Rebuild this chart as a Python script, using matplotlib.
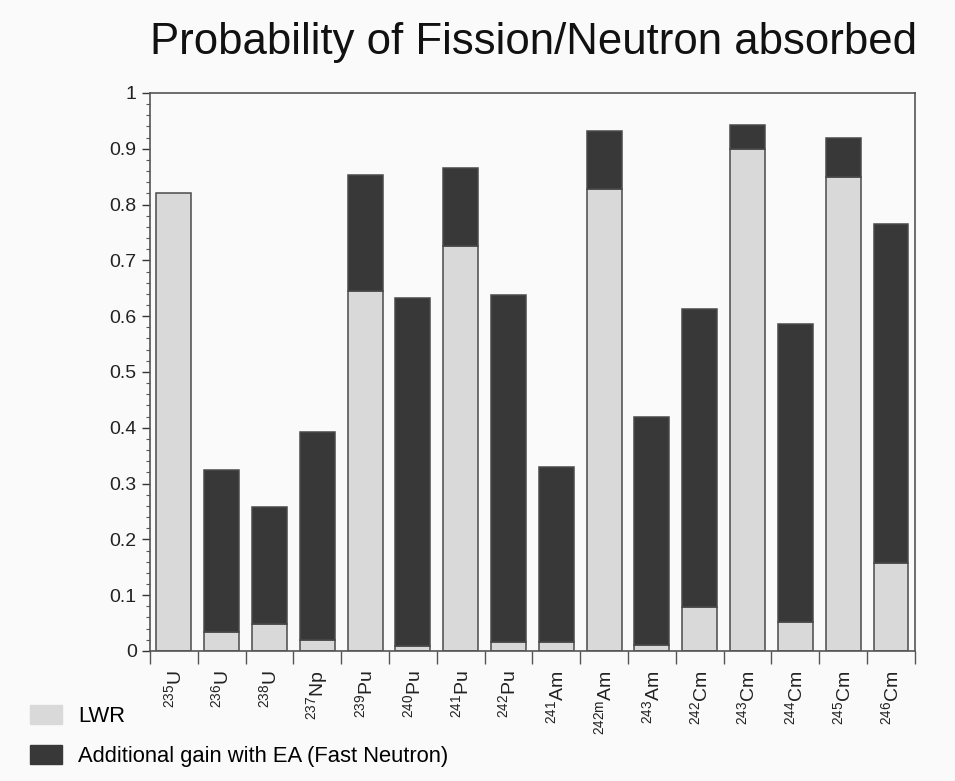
"""Probability of fission per neutron absorbed, LWR vs fast-neutron EA."""

import matplotlib

matplotlib.use("Agg")
import matplotlib.pyplot as plt
import numpy as np
from matplotlib.patches import Patch
from matplotlib.ticker import MultipleLocator

isotopes = [
    "$^{235}$U", "$^{236}$U", "$^{238}$U", "$^{237}$Np",
    "$^{239}$Pu", "$^{240}$Pu", "$^{241}$Pu", "$^{242}$Pu",
    "$^{241}$Am", "$^{242m}$Am", "$^{243}$Am", "$^{242}$Cm",
    "$^{243}$Cm", "$^{244}$Cm", "$^{245}$Cm", "$^{246}$Cm",
]
lwr = [0.820, 0.034, 0.048, 0.020, 0.645, 0.009, 0.726, 0.016,
       0.016, 0.828, 0.011, 0.079, 0.900, 0.052, 0.850, 0.158]
fast_total = [0.820, 0.324, 0.258, 0.392, 0.853, 0.633, 0.866, 0.638,
              0.330, 0.932, 0.419, 0.613, 0.943, 0.586, 0.919, 0.765]

LIGHT = "#d9d9d9"
DARK = "#383838"
EDGE = "#4a4a4a"
BG = "#fafafa"

plt.rcParams["font.family"] = ["Liberation Sans", "DejaVu Sans"]
plt.rcParams["mathtext.fontset"] = "custom"
plt.rcParams["mathtext.rm"] = "Liberation Sans"
plt.rcParams["mathtext.it"] = "Liberation Sans"

fig = plt.figure(figsize=(9.55, 7.81), dpi=100, facecolor=BG)
ax = fig.add_axes([0.157, 0.1665, 0.801, 0.7145], facecolor=BG)

x = np.arange(len(isotopes))
gain = np.array(fast_total) - np.array(lwr)
ax.bar(x, lwr, width=0.73, color=LIGHT, edgecolor=EDGE, linewidth=1.1, zorder=2)
ax.bar(x[gain > 0], gain[gain > 0], bottom=np.array(lwr)[gain > 0], width=0.73,
       color=DARK, edgecolor=EDGE, linewidth=1.1, zorder=2)

ax.set_xlim(-0.5, len(isotopes) - 0.5)
ax.set_ylim(0, 1)

ax.yaxis.set_major_locator(MultipleLocator(0.1))
ax.yaxis.set_minor_locator(MultipleLocator(0.02))
ax.set_yticks(np.round(np.arange(0, 1.01, 0.1), 1))
ax.set_yticklabels(["0"] + [f"{v:.1f}" for v in np.arange(0.1, 0.95, 0.1)] + ["1"])
ax.tick_params(axis="y", which="major", labelsize=14, length=6, width=1.0,
               colors="#333333", labelcolor="#222222", direction="out")
ax.tick_params(axis="y", which="minor", length=3, width=0.8, colors="#555555",
               direction="out")

ax.set_xticks(x)
ax.set_xticklabels(isotopes, rotation=90, fontsize=14, va="top", ha="center")
ax.set_xticks(np.arange(-0.5, len(isotopes), 1.0), minor=True)
ax.tick_params(axis="x", which="major", length=0, pad=14, colors="#222222")
ax.tick_params(axis="x", which="minor", length=9, width=1.0, colors="#555555",
               direction="out")

for spine in ax.spines.values():
    spine.set_color("#555555")
    spine.set_linewidth(1.2)

fig.text(0.559, 0.945, "Probability of Fission/Neutron absorbed",
         ha="center", va="center", fontsize=31.5, color="#111111")

handles = [
    Patch(facecolor=LIGHT, edgecolor=LIGHT, label="LWR"),
    Patch(facecolor=DARK, edgecolor=DARK, label="Additional gain with EA (Fast Neutron)"),
]
fig.legend(handles=handles, loc="upper left", bbox_to_anchor=(0.022, 0.108),
           frameon=False, fontsize=15.8, handlelength=1.45, handleheight=0.95,
           handletextpad=0.75, labelspacing=0.8, borderaxespad=0.0)

fig.savefig("out.png", dpi=100, facecolor=BG)
plt.close(fig)
